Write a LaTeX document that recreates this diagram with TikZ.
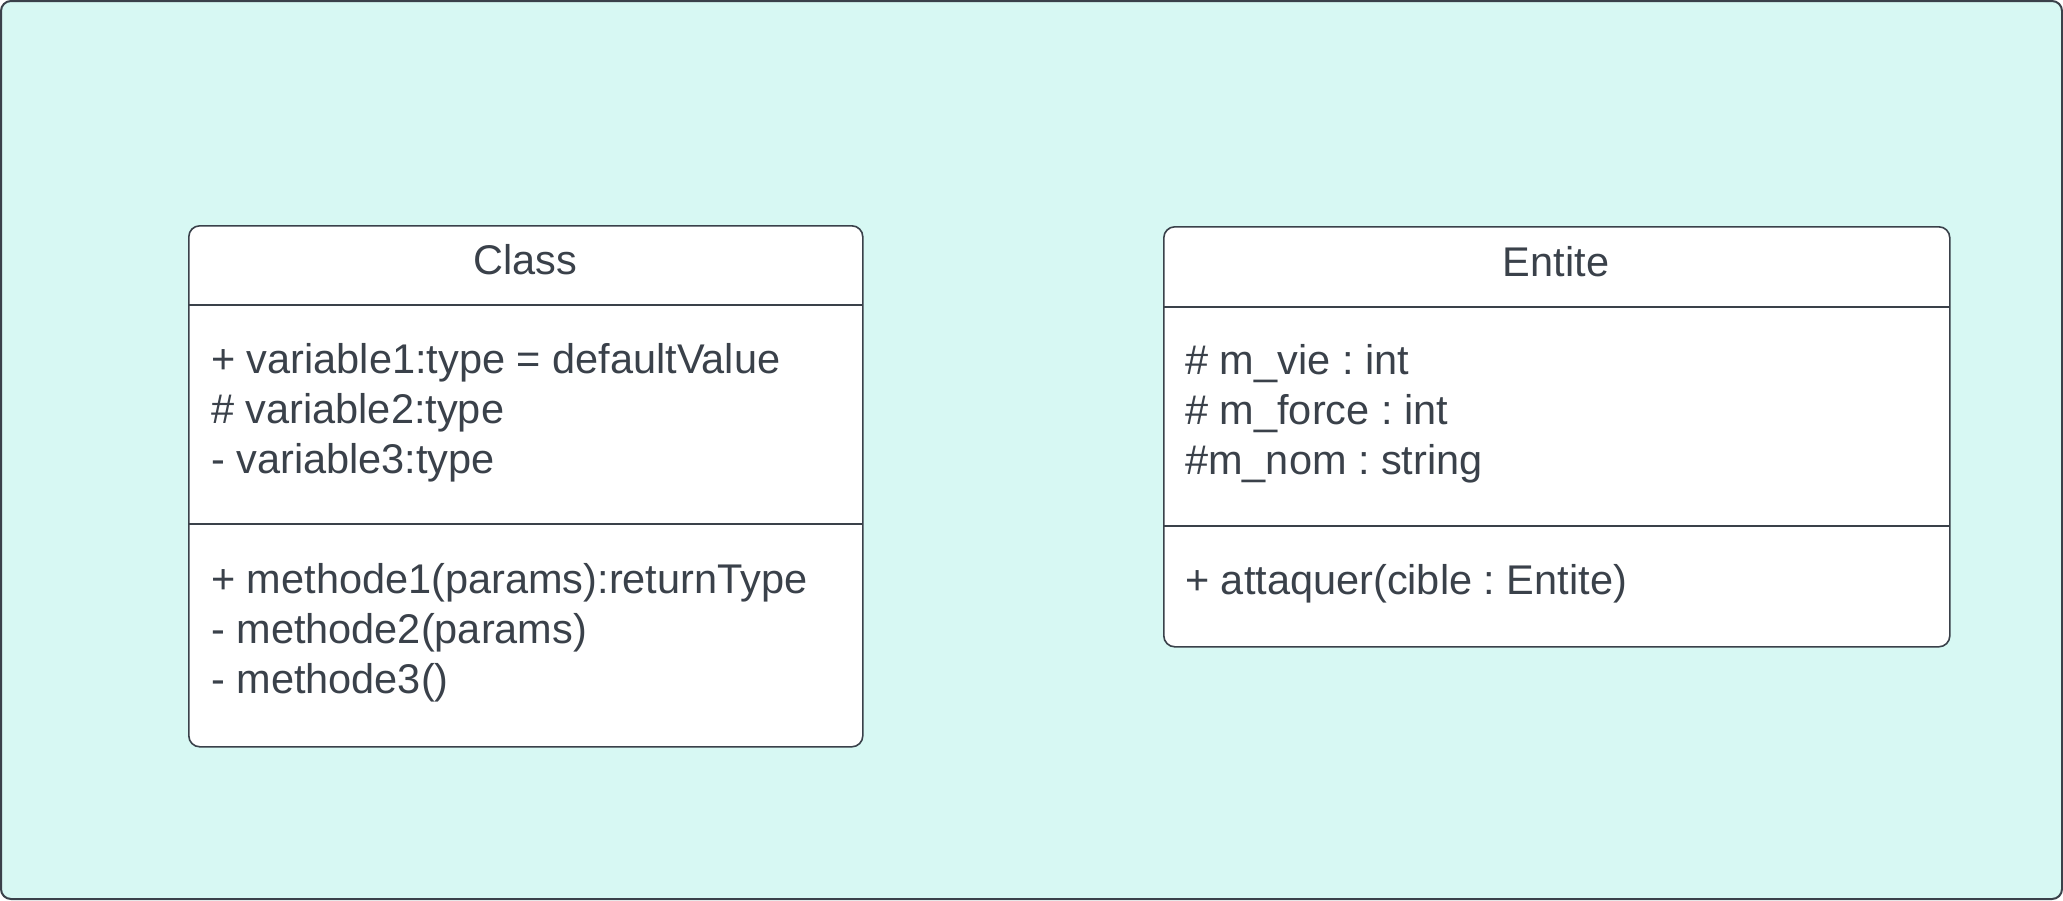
\documentclass[tikz,border=0pt]{standalone}
\usepackage{fontspec}
\setmainfont{Liberation Sans}
\usepackage{xcolor}
\usepackage{tikz}
\usetikzlibrary{positioning}
\definecolor{ink}{HTML}{3A414A}
\definecolor{canvas}{HTML}{D7F8F3}
\definecolor{paper}{HTML}{FFFFFF}
\frenchspacing

\tikzset{
  umlbox/.style={draw=ink, fill=paper, line width=1.6pt, rounded corners=11pt,
    anchor=north west, inner sep=0pt},
  sepline/.style={ink, line width=1.6pt},
  member/.style={anchor=base west, inner sep=0pt, text=ink},
  title/.style={anchor=base, inner sep=0pt, text=ink}
}

\begin{document}
\begin{tikzpicture}[x=1pt, y=-1pt, font=\fontsize{41.5}{50}\selectfont]
  \useasboundingbox (0,0) rectangle (2063,900);
  % background
  \draw[ink, fill=canvas, line width=2pt, rounded corners=10pt] (1,1) rectangle (2062,899);

  % class template
  \node[umlbox, minimum width=674pt, minimum height=521pt] (cls) at (188,225) {};
  \draw[sepline] (188,305) -- (862,305);
  \draw[sepline] (188,524) -- (862,524);
  \node[title] (clsname) at (525,274) {Class};
  \foreach \t [count=\i] in {+ variable1:type = defaultValue, \# variable2:type, - variable3:type}
    \node[member] (clsattr\i) at (211,{373+50*(\i-1)}) {\t};
  \foreach \t [count=\i] in {+ methode1(params):returnType, - methode2(params), - methode3()}
    \node[member] (clsop\i) at (211,{593+50*(\i-1)}) {\t};

  % entite
  \node[umlbox, minimum width=786pt, minimum height=420pt] (ent) at (1163,226) {};
  \draw[sepline] (1163,307) -- (1949,307);
  \draw[sepline] (1163,526) -- (1949,526);
  \node[title] (entname) at (1556,276) {Entite};
  \foreach \t [count=\i] in {\# m\_vie : int, \# m\_force : int, \#m\_nom : string}
    \node[member] (entattr\i) at (1185,{374+50*(\i-1)}) {\t};
  \node[member] (entop1) at (1185,594) {+ attaquer(cible : Entite)};
\end{tikzpicture}
\end{document}
